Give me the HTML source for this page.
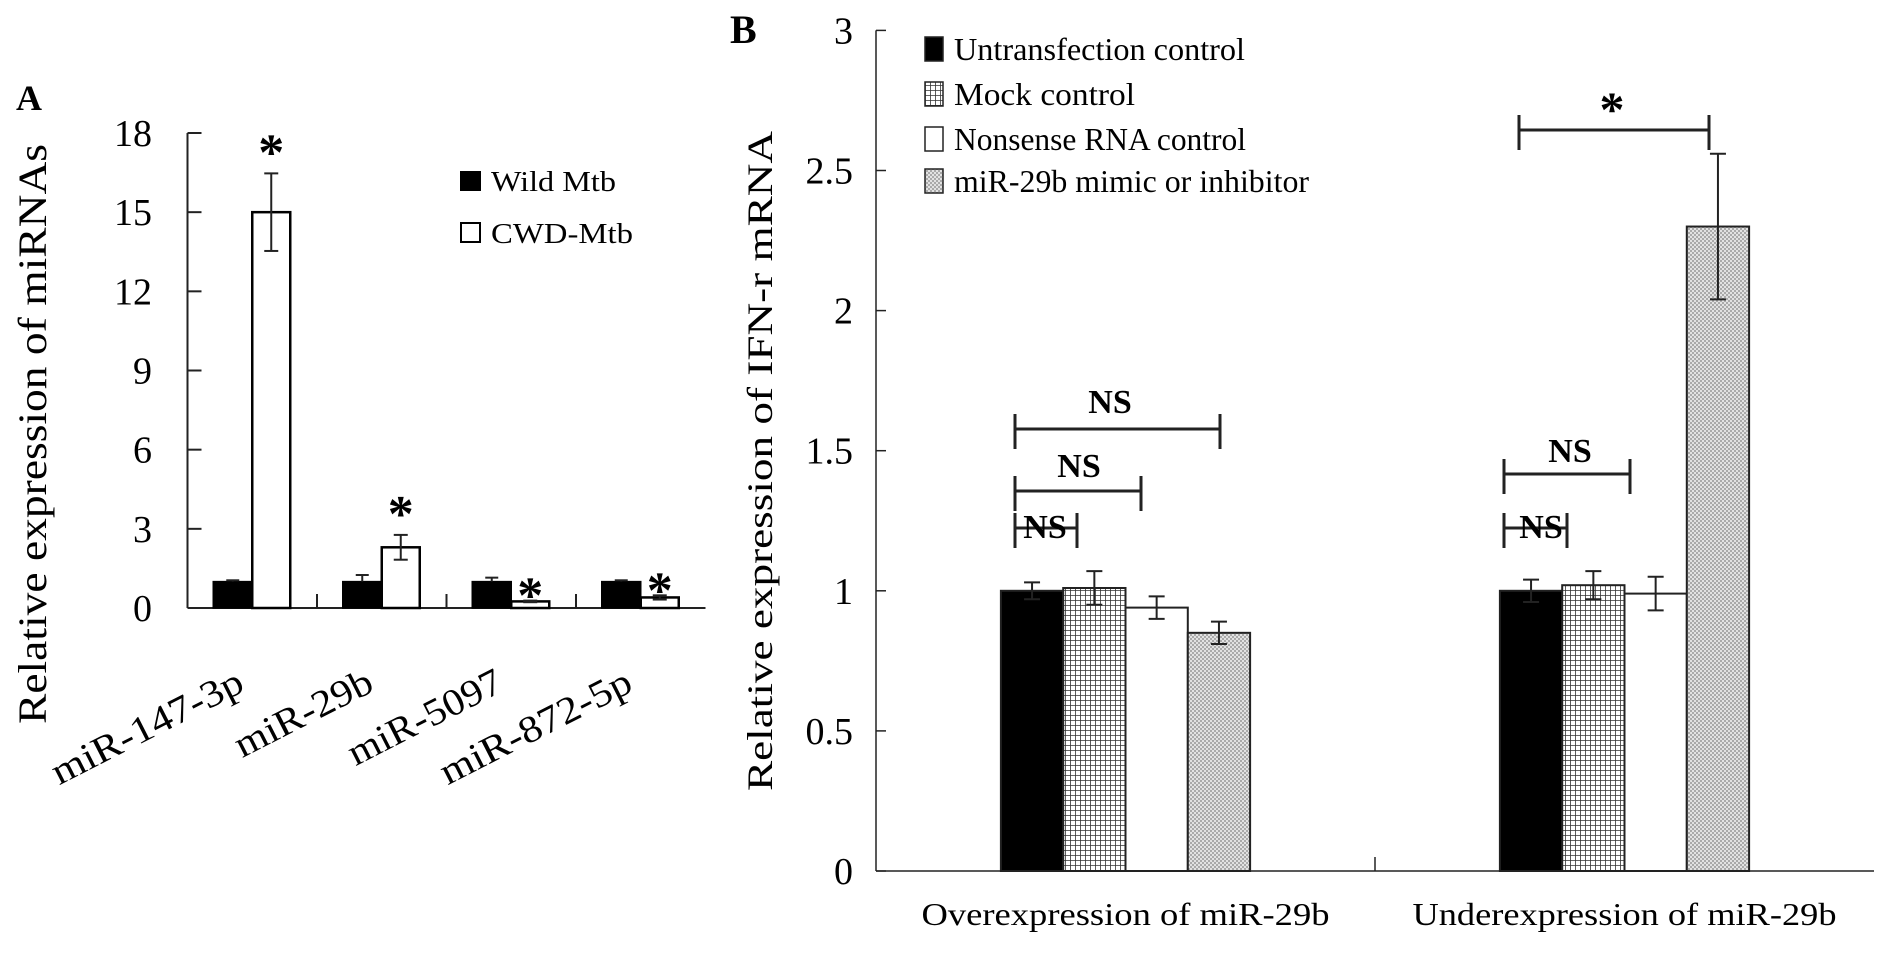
<!DOCTYPE html>
<html><head><meta charset="utf-8"><style>
html,body{margin:0;padding:0;background:#fff;}
svg{display:block;font-family:"Liberation Serif",serif;}
</style></head><body>
<svg id="c" width="1890" height="954" viewBox="0 0 1890 954" xmlns="http://www.w3.org/2000/svg">
<defs>
<pattern id="grid" width="5" height="5" patternUnits="userSpaceOnUse"><rect width="5" height="5" fill="#fff"/><path d="M0 0H5M0 0V5" stroke="#333" stroke-width="1.6"/></pattern>
<pattern id="dots" width="4" height="4" patternUnits="userSpaceOnUse"><rect width="4" height="4" fill="#e2e2e2"/><rect width="2" height="2" fill="#aaa"/><rect x="2" y="2" width="2" height="2" fill="#aaa"/></pattern>
</defs>
</svg>
<script>
const aCats=["miR-147-3p","miR-29b","miR-5097","miR-872-5p"];
const aWild=[1,1,1,1];
const aWildErr=[0.05,0.25,0.15,0.05];
const aCwd=[15,2.3,0.25,0.4];
const aCwdErr=[1.47,0.47,0.03,0.08];
const aTicks=[0,3,6,9,12,15,18];
const bCats=["Overexpression of miR-29b","Underexpression of miR-29b"];
const bSeries=["Untransfection control","Mock control","Nonsense RNA control","miR-29b mimic or inhibitor"];
const bVals=[[1.0,1.01,0.94,0.85],[1.0,1.02,0.99,2.3]];
const bErr=[[0.03,0.06,0.04,0.04],[0.04,0.05,0.06,0.26]];
const bTicks=[0,0.5,1,1.5,2,2.5,3];
const bTickLabels=["0","0.5","1","1.5","2","2.5","3"];

const svg=document.getElementById('c');
const NS='http://www.w3.org/2000/svg';
function mk(tag,at,txt){const e=document.createElementNS(NS,tag);for(const k in at)e.setAttribute(k,at[k]);if(txt!==undefined)e.textContent=txt;svg.appendChild(e);return e;}
function ln(x1,y1,x2,y2,w){return mk('line',{x1,y1,x2,y2,stroke:'#222','stroke-width':w||2});}

// ---- Panel A ----
const aX0=187.5,aW=129.5,aY0=608,aY18=133;
const ay=v=>aY0-(v/18)*(aY0-aY18);
const ax=i=>aX0+aW*(i+0.5);
let t=mk('text',{x:16,y:110,'font-size':36,'font-weight':'bold'},'A');

t=ln(aX0,aY18,aX0,aY0);
t=ln(aX0,aY0,aX0+4*aW,aY0);
aTicks.forEach(v=>{ln(aX0,ay(v),aX0+14,ay(v));
 t=mk('text',{x:152,y:ay(v)+13,'font-size':38,'text-anchor':'end'},String(v));
 });
for(let i=1;i<4;i++)ln(aX0+aW*i,aY0,aX0+aW*i,aY0-14);
t=mk('text',{transform:'translate(46,434) rotate(-90)','font-size':40,'text-anchor':'middle',textLength:580,lengthAdjust:'spacingAndGlyphs'},'Relative expression of miRNAs');

const aLabelLen=[210,150,168,210];
aCats.forEach((c,i)=>{
 const cx=ax(i);
 let r=mk('rect',{x:cx-39,y:ay(aWild[i]),width:39,height:aY0-ay(aWild[i]),fill:'#000',stroke:'#000','stroke-width':1.5});
 
 ln(cx-19.5,ay(aWild[i]+aWildErr[i]),cx-19.5,ay(aWild[i]));ln(cx-26,ay(aWild[i]+aWildErr[i]),cx-13,ay(aWild[i]+aWildErr[i]));
 r=mk('rect',{x:cx,y:ay(aCwd[i]),width:38,height:aY0-ay(aCwd[i]),fill:'#fff',stroke:'#000','stroke-width':2.5});
 
 const ex=cx+19,top=ay(aCwd[i]+aCwdErr[i]),bot=ay(aCwd[i]-aCwdErr[i]);
 ln(ex,top,ex,bot);ln(ex-7,top,ex+7,top);ln(ex-7,bot,ex+7,bot);
 let s=mk('text',{x:ex,y:top+(i<2?-4:12),'font-size':52,'font-weight':'bold','text-anchor':'middle'},'*');
 
 let l=mk('text',{transform:`translate(${cx-6},690) rotate(-27)`,'font-size':38,'text-anchor':'end',textLength:aLabelLen[i],lengthAdjust:'spacingAndGlyphs'},c);
 
});
t=mk('rect',{x:460,y:171,width:21,height:20,fill:'#000'});
t=mk('text',{x:491,y:191,'font-size':29,textLength:125,lengthAdjust:'spacingAndGlyphs'},'Wild Mtb');
t=mk('rect',{x:461,y:223,width:19,height:19,fill:'#fff',stroke:'#000','stroke-width':2});
t=mk('text',{x:491,y:243,'font-size':29,textLength:142,lengthAdjust:'spacingAndGlyphs'},'CWD-Mtb');

// ---- Panel B ----
const bX0=876,bW=499,bY0=871,bY3=30.4,bBar=62.3;
const by=v=>bY0-(v/3)*(bY0-bY3);
const fills=['#000','url(#grid)','#fff','url(#dots)'];
t=mk('text',{x:730,y:43,'font-size':40,'font-weight':'bold'},'B');
t=ln(bX0,bY3,bX0,bY0,1.5);
t=ln(bX0,bY0,bX0+2*bW,bY0,1.5);
ln(bX0+bW,bY0,bX0+bW,bY0-14,1.5);
bTicks.forEach((v,i)=>{ln(bX0,by(v),bX0+10,by(v),1.5);
 t=mk('text',{x:853,y:by(v)+13,'font-size':38,'text-anchor':'end'},bTickLabels[i]);
 });
t=mk('text',{transform:'translate(772,461) rotate(-90)','font-size':36,'text-anchor':'middle',textLength:660,lengthAdjust:'spacingAndGlyphs'},'Relative expression of  IFN-r mRNA');

bCats.forEach((c,g)=>{
 const gx=bX0+bW*(g+0.5)-2*bBar;
 bVals[g].forEach((v,k)=>{
  const x=gx+k*bBar;
  let r=mk('rect',{x,y:by(v),width:bBar,height:bY0-by(v),fill:fills[k],stroke:'#222','stroke-width':2});
  
  const ex=x+bBar/2,top=by(v+bErr[g][k]),bot=by(v-bErr[g][k]);
  ln(ex,top,ex,bot);ln(ex-8,top,ex+8,top);ln(ex-8,bot,ex+8,bot);
 });
 t=mk('text',{x:bX0+bW*(g+0.5),y:925,'font-size':32,'text-anchor':'middle',textLength:g?424:408,lengthAdjust:'spacingAndGlyphs'},c);
 
});
function bracket(x1,x2,y,label,tx,ty,fs){ln(x1,y,x2,y,3);ln(x1,y-15,x1,y+20,3);ln(x2,y-15,x2,y+20,3);
 const e=mk('text',{x:tx,y:ty,'font-size':fs||34,'font-weight':'bold','text-anchor':'middle'},label);
 }
bracket(1015,1077,528,'NS',1045,538);
bracket(1015,1141,491,'NS',1079,477);
bracket(1015,1220,429,'NS',1110,413);
bracket(1504,1567,528,'NS',1541,538);
bracket(1504,1630,474,'NS',1570,462);
bracket(1519,1709,130,'*',1612,126,50);
bSeries.forEach((s,k)=>{const yc=[49,94,139,181][k];
 let r=mk('rect',{x:925,y:yc-12,width:18,height:24,fill:fills[k],stroke:'#222','stroke-width':1.5});
 
 let e=mk('text',{x:954,y:yc+11,'font-size':32,textLength:[291,181,292,355][k],lengthAdjust:'spacingAndGlyphs'},s);
 });
</script>
</body></html>
